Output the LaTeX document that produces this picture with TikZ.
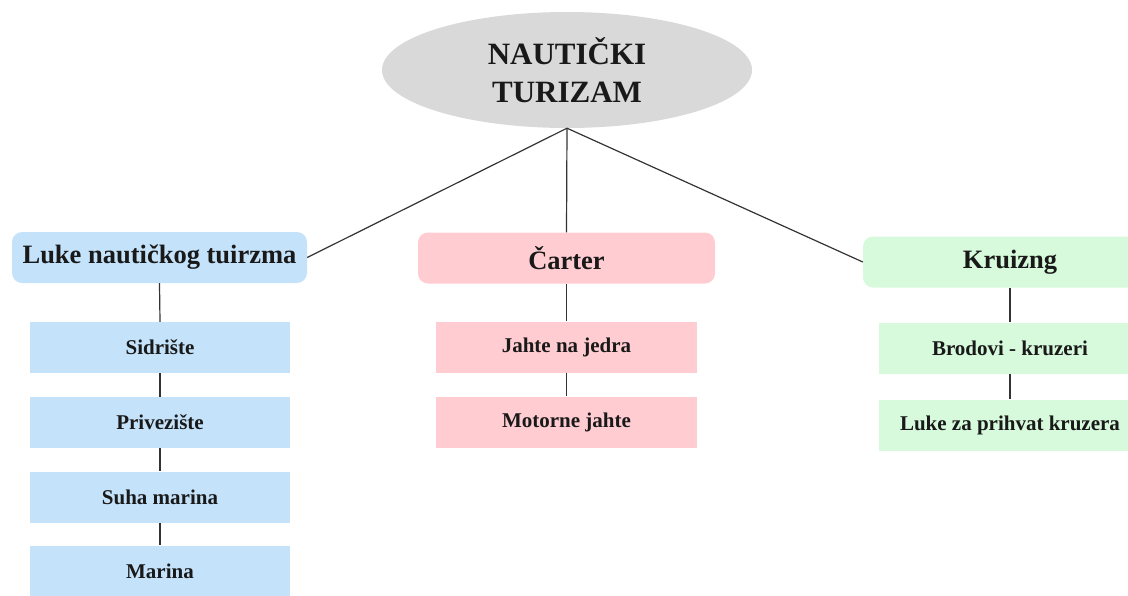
\documentclass[tikz,border=0pt]{standalone}
\usepackage{fontspec}
\setmainfont{Liberation Serif}
\usetikzlibrary{shapes.geometric}
\definecolor{rootgray}{HTML}{D9D9D9}
\definecolor{lblue}{HTML}{C4E3FB}
\definecolor{lpink}{HTML}{FFCCD1}
\definecolor{lgreen}{HTML}{D6FADB}
\definecolor{linec}{HTML}{333333}
\begin{document}
\begin{tikzpicture}[x=1pt,y=-1pt,
  rootnode/.style={ellipse,fill=rootgray,minimum width=370pt,minimum height=116pt,inner sep=0pt,
    font=\bfseries\fontsize{31}{38}\selectfont,align=center,text=black!90},
  headfont/.style={font=\bfseries\fontsize{26.5}{30}\selectfont,text=black!90},
  headbox/.style={headfont,rounded corners=10pt,inner sep=0pt,minimum height=51pt},
  subfont/.style={font=\bfseries\fontsize{21}{25}\selectfont,text=black!90},
  subbox/.style={subfont,inner sep=0pt,minimum height=51pt},
  conn/.style={draw=linec,line width=1.2pt}]
\useasboundingbox (0,0) rectangle (1128,595);
\node[rootnode] (root) at (567,70) {NAUTIČKI\\TURIZAM};
% heads
\node[headbox,fill=lblue,minimum width=295pt] (h1) at (159.5,257.5) {Luke nautičkog tuirzma};
\node[headbox,fill=lpink,minimum width=297pt] (h2) at (566.5,258) {Čarter};
\node[headbox,fill=lgreen,minimum width=280pt] (h3) at (1003,262) {};
\node[headfont] (h3t) at (1010,262) {Kruizng};
% left subs
\node[subbox,fill=lblue,minimum width=260pt] (s1) at (160,347.5) {Sidrište};
\node[subbox,fill=lblue,minimum width=260pt] (s2) at (160,422.5) {Privezište};
\node[subbox,fill=lblue,minimum width=260pt] (s3) at (160,497) {Suha marina};
\node[subbox,fill=lblue,minimum width=260pt] (s4) at (160,571) {Marina};
% middle subs
\node[subbox,fill=lpink,minimum width=261pt] (c1) at (566.5,347) {Jahte na jedra};
\node[subbox,fill=lpink,minimum width=261pt] (c2) at (566.5,422) {Motorne jahte};
% right subs
\node[subbox,fill=lgreen,minimum width=260pt] (k1) at (1009,348) {};
\node[subfont] (k1t) at (1010,348) {Brodovi - kruzeri};
\node[subbox,fill=lgreen,minimum width=260pt] (k2) at (1009,425) {};
\node[subfont] (k2t) at (1010,425) {Luke za prihvat kruzera};
% connectors
\draw[conn] (root.south) -- (h1.east);
\draw[conn] (root.south) -- (h2.north);
\draw[conn] (root.south) -- (h3.west);
\draw[conn] (h1.south) -- (s1.north);
\draw[conn] (s1.south) -- (s2.north);
\draw[conn] (s2.south) -- (s3.north);
\draw[conn] (s3.south) -- (s4.north);
\draw[conn] (h2.south) -- (c1.north);
\draw[conn] (c1.south) -- (c2.north);
\draw[conn] (h3t.south |- h3.south) -- (h3t.south |- k1.north);
\draw[conn] (k1t.south |- k1.south) -- (k1t.south |- k2.north);
\end{tikzpicture}
\end{document}
